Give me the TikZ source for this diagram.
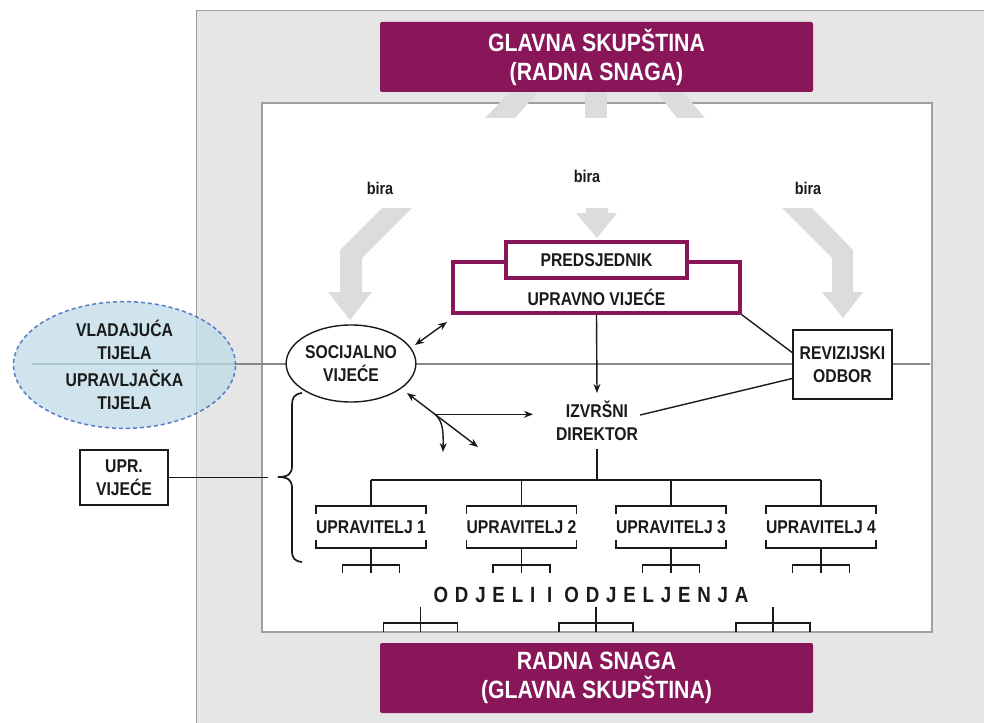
\documentclass[tikz,border=0pt]{standalone}
\usepackage{fontspec}
\setmainfont{Liberation Sans}[FakeStretch=0.85]
\newfontfamily\spacedfont{Liberation Sans}[FakeStretch=0.85,LetterSpace=31]
\usetikzlibrary{arrows.meta,shapes.geometric,calc}
\definecolor{purp}{HTML}{881659}
\definecolor{panel}{HTML}{E6E6E6}
\definecolor{panelline}{HTML}{A0A0A0}
\definecolor{arrowgray}{HTML}{DCDCDC}
\definecolor{midline}{HTML}{878787}
\definecolor{blueF}{HTML}{BFDCE8}
\definecolor{blueD}{HTML}{5A7CC4}
\definecolor{ink}{HTML}{1A1A1A}
\begin{document}
\begin{tikzpicture}[x=1pt,y=-1pt,
  txt/.style={text=ink,font=\bfseries\fontsize{18.5}{23}\selectfont,align=center,inner sep=0pt},
  biratxt/.style={text=ink,font=\bfseries\fontsize{17}{20}\selectfont,inner sep=0pt},
  purpbox/.style={fill=purp,rounded corners=2pt,minimum width=433pt,minimum height=70pt,text=white,
     font=\bfseries\fontsize{25}{29}\selectfont,align=center,inner sep=0pt},
  ln/.style={draw=ink,line width=1.7pt},
  arr/.style={draw=ink,line width=1.4pt,-{Stealth[length=9pt,width=7pt]}},
  dbl/.style={draw=ink,line width=1.4pt,{Stealth[length=9pt,width=7pt]}-{Stealth[length=9pt,width=7pt]}},
  boxed/.style={txt,draw=ink,line width=1.7pt,fill=white},
  purpframe/.style={draw=purp,line width=3.5pt,fill=white}]
\useasboundingbox (0,0) rectangle (984,722);
\fill[white] (0,0) rectangle (984,722);
% panels
\filldraw[fill=panel,draw=panelline,line width=1.5pt] (196.5,10.5) rectangle (1000,740);
\filldraw[fill=white,draw=panelline,line width=1.5pt] (262,103) rectangle (932,632);
% faded stripes of the big arrows
\fill[arrowgray] (510,92) -- (538,92) -- (515,118) -- (485,118) -- cycle;
\fill[arrowgray] (585,92) -- (607,92) -- (607,118) -- (585,118) -- cycle;
\fill[arrowgray] (657,92) -- (683,92) -- (705,118) -- (677,118) -- cycle;
% big gray arrows
\fill[arrowgray] (382,208) -- (412,208) -- (362,258) -- (362,292) -- (372,292) -- (350,320) -- (328,292) -- (340,292) -- (340,250) -- cycle;
\fill[arrowgray] (782,208) -- (812,208) -- (853,250) -- (853,292) -- (863,292) -- (843,318) -- (822,292) -- (832,292) -- (832,258) -- cycle;
\fill[arrowgray] (586,208) -- (608,208) -- (608,213) -- (617,213) -- (597,238) -- (576,213) -- (586,213) -- cycle;
% purple boxes
\node[purpbox] (ga) at (596.5,57) {GLAVNA SKUPŠTINA\\(RADNA SNAGA)};
\node[purpbox] (rs) at (596.5,678) {RADNA SNAGA\\(GLAVNA SKUPŠTINA)};
% bira
\node[biratxt] (bira1) at (380,188) {bira};
\node[biratxt] (bira2) at (587,176) {bira};
\node[biratxt] (bira3) at (808,188) {bira};
% horizontal line
\draw[midline,line width=2.6pt] (32,364) -- (930,364);
% governing bodies ellipse
\node[txt,ellipse,draw=blueD,dash pattern=on 4pt off 3pt,line width=1.5pt,fill=blueF,fill opacity=0.75,text opacity=1,
  minimum width=222pt,minimum height=104pt] (vt) at (124.5,365) {VLADAJUĆA\\TIJELA\\[4pt]UPRAVLJAČKA\\TIJELA};
% social council
\node[txt,ellipse,draw=ink,line width=1.4pt,fill=white,minimum width=118pt,minimum height=77pt] (sv) at (351,363.5) {SOCIJALNO\\VIJEĆE};
% board
\node[purpframe,minimum width=287pt,minimum height=51pt] (uv) at (596.5,287.5) {};
\node[txt] (uvt) at (596.5,297) {UPRAVNO VIJEĆE};
\node[txt,purpframe,minimum width=181pt,minimum height=36pt] (pr) at (596.5,260) {PREDSJEDNIK};
% audit
\node[boxed,minimum width=99pt,minimum height=69pt] (ro) at (842.5,364.5) {REVIZIJSKI\\ODBOR};
% executive
\node[txt,inner ysep=8pt] (iz) at (597,421) {IZVRŠNI\\DIREKTOR};
\draw[arr] (uv.south) -- (iz.north);
\draw[ln,line width=1.4pt] (uv.south east) -- ($(ro.west)+(0,-12)$);
\draw[ln,line width=1.4pt] ($(ro.west)+(0,14)$) -- ($(iz.east)+(2,-6)$);
% arrows around social council
\coordinate (a1) at (415,345); \coordinate (a2) at (447,322);
\draw[dbl] (a1) -- (a2);
\coordinate (b1) at (407,393); \coordinate (b2) at (478,447); \coordinate (j) at (435,414.3);
\draw[dbl] (b1) -- (b2);
\coordinate (h2) at (533,414.3);
\draw[arr] (j) -- (h2);
\coordinate (c2) at (443,452);
\draw[arr] (j) .. controls (443,421) and (443.5,432) .. (c2);
% managers
\coordinate (bus) at (597,480);
\draw[ln] (iz.south) -- (bus);
\foreach \i/\x in {1/371,2/521.5,3/671,4/821} {
  \node[txt,minimum width=105pt,minimum height=42pt] (m\i) at (\x,527) {UPRAVITELJ \i};
  \draw[ln] ($(m\i.north west)+(0,8)$) -- (m\i.north west) -- (m\i.north east) -- ++(0,8);
  \draw[ln] ($(m\i.south west)+(0,-8)$) -- (m\i.south west) -- (m\i.south east) -- ++(0,-8);
  \draw[ln] (m\i.north) -- (m\i.north |- bus);
  \draw[ln] (m\i.south) -- ++(0,25);
  \draw[ln] ($(m\i.south)+(-28.5,25)$) -- ++(0,-8) -- ++(57,0) -- ++(0,8);
}
\draw[ln] (m1.north |- bus) -- (m4.north |- bus);
% departments
\node[text=ink,font=\spacedfont\bfseries\fontsize{22}{26}\selectfont,inner sep=0pt] (od) at (591,595) {ODJELI I ODJELJENJA};
\foreach \x in {420.5,596,773} {
  \draw[ln] (\x,607) -- (\x,632);
  \draw[ln] (\x-37,632) -- (\x-37,623) -- (\x+37,623) -- (\x+37,632);
}
% brace and management council
\coordinate (bt) at (278,477);
\draw[ln] (302,393) .. controls (294,394) and (292,398) .. (292,405) -- (292,466)
  .. controls (292,474) and (288,477) .. (bt) .. controls (288,477) and (292,480) .. (292,488)
  -- (292,550) .. controls (292,558) and (294,561) .. (302,562);
\node[boxed,minimum width=88pt,minimum height=55pt] (upr) at (124,477.5) {UPR.\\VIJEĆE};
\draw[ln] (upr.east) -- ($(bt)+(-10,0.5)$);
\end{tikzpicture}
\end{document}
